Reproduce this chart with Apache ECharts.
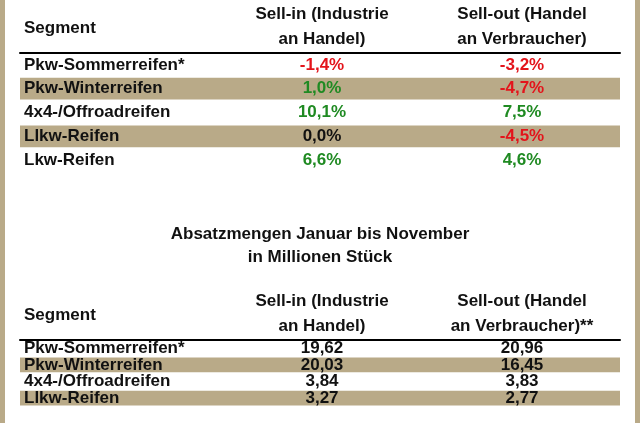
<!DOCTYPE html>
<html>
<head>
<meta charset="utf-8">
<script src="https://cdn.jsdelivr.net/npm/echarts@6/dist/echarts.min.js"></script>
<style>html,body{margin:0;padding:0;background:#fff}#main{width:640px;height:423px}</style>
</head>
<body>
<div id="main"></div>
<script>
// Veraenderung Sell-in / Sell-out
var segmente1 = ['Pkw-Sommerreifen*', 'Pkw-Winterreifen', '4x4-/Offroadreifen', 'Llkw-Reifen', 'Lkw-Reifen'];
var sellIn1 = [-1.4, 1.0, 10.1, 0.0, 6.6];
var sellOut1 = [-3.2, -4.7, 7.5, -4.5, 4.6];

// Absatzmengen Januar bis November (Mio. Stueck), letzte Zeile im Bild abgeschnitten
var segmente2 = ['Pkw-Sommerreifen*', 'Pkw-Winterreifen', '4x4-/Offroadreifen', 'Llkw-Reifen', 'Lkw-Reifen'];
var sellIn2 = [19.62, 20.03, 3.84, 3.27];
var sellOut2 = [20.96, 16.45, 3.83, 2.77];

var FONT = '"Liberation Sans", Arial, sans-serif';
var SHADE = '#b9aa88';
var RED = '#e3141b', GREEN = '#1f8a22', BLACK = '#111';

function fmt(v) { return v.toFixed(1).replace('.', ','); }
function fmt2(v) { return v.toFixed(2).replace('.', ','); }
function pctColor(v) { return v > 0 ? GREEN : (v < 0 ? RED : BLACK); }

function rowsData(a, b) {
    return a.map(function (v, i) { return [0, i, a[i], b[i]]; });
}

function makeRender(seg, isPct) {
    return function (params, api) {
        var row = api.value(1);
        var p = api.coord([0, row]);
        var h = api.size([0, 1])[1];
        var left = params.coordSys.x, w = params.coordSys.width;
        var a = api.value(2), b = api.value(3);
        var children = [];
        if (row % 2 === 1) {
            children.push({ type: 'rect', shape: { x: left, y: p[1] - h / 2 + 1, width: w, height: h - 2 }, style: { fill: SHADE } });
        }
        var base = { fontFamily: FONT, fontWeight: 'bold', fontSize: 17, verticalAlign: 'middle' };
        children.push({ type: 'text', x: left + 4, y: p[1], style: Object.assign({ text: seg[row], fill: BLACK, align: 'left' }, base) });
        children.push({ type: 'text', x: left + 302, y: p[1], style: Object.assign({ text: isPct ? fmt(a) + '%' : fmt2(a), fill: isPct ? pctColor(a) : BLACK, align: 'center' }, base) });
        children.push({ type: 'text', x: left + 502, y: p[1], style: Object.assign({ text: isPct ? fmt(b) + '%' : fmt2(b), fill: isPct ? pctColor(b) : BLACK, align: 'center' }, base) });
        return { type: 'group', children: children };
    };
}

function xAx(idx) {
    return { gridIndex: idx, type: 'value', min: 0, max: 600, position: 'top',
        axisLine: { show: true, onZero: false, lineStyle: { color: '#000', width: 2 } },
        axisTick: { show: false }, axisLabel: { show: false }, splitLine: { show: false } };
}
function yAx(idx, seg) {
    return { gridIndex: idx, type: 'category', inverse: true, data: seg.map(function (s, i) { return i; }),
        axisLine: { show: false }, axisTick: { show: false }, axisLabel: { show: false }, splitLine: { show: false } };
}

var hdr = { fontFamily: FONT, fontWeight: 'bold', fontSize: 17, fill: BLACK, lineHeight: 25, verticalAlign: 'middle' };
function headers(y, outText) {
    return [
        { type: 'text', left: 24, top: y - 11, style: Object.assign({ text: 'Segment' }, hdr) },
        { type: 'text', x: 322, y: y, style: Object.assign({ text: 'Sell-in (Industrie\nan Handel)', align: 'center' }, hdr) },
        { type: 'text', x: 522, y: y, style: Object.assign({ text: outText, align: 'center' }, hdr) }
    ];
}

var myChart = echarts.init(document.getElementById('main'));
var option = {
    backgroundColor: '#fff',
    animation: false,
    title: {
        text: 'Absatzmengen Januar bis November\nin Millionen Stück',
        left: 'center', top: 218,
        textStyle: { fontFamily: FONT, fontWeight: 'bold', fontSize: 17, color: BLACK, lineHeight: 23 }
    },
    grid: [
        { left: 20, right: 20, top: 53, height: 119 },
        { left: 20, right: 20, top: 340, bottom: -35 }
    ],
    xAxis: [xAx(0), xAx(1)],
    yAxis: [yAx(0, segmente1), yAx(1, segmente2)],
    graphic: [
        { type: 'rect', shape: { x: 0, y: 0, width: 5, height: 423 }, style: { fill: SHADE } },
        { type: 'rect', shape: { x: 635, y: 0, width: 5, height: 423 }, style: { fill: SHADE } }
    ].concat(headers(27, 'Sell-out (Handel\nan Verbraucher)'))
     .concat(headers(314, 'Sell-out (Handel\nan Verbraucher)**')),
    series: [
        { type: 'custom', xAxisIndex: 0, yAxisIndex: 0, renderItem: makeRender(segmente1, true), data: rowsData(sellIn1, sellOut1) },
        { type: 'custom', xAxisIndex: 1, yAxisIndex: 1, renderItem: makeRender(segmente2, false), data: rowsData(sellIn2, sellOut2) }
    ]
};
myChart.setOption(option);
</script>
</body>
</html>
